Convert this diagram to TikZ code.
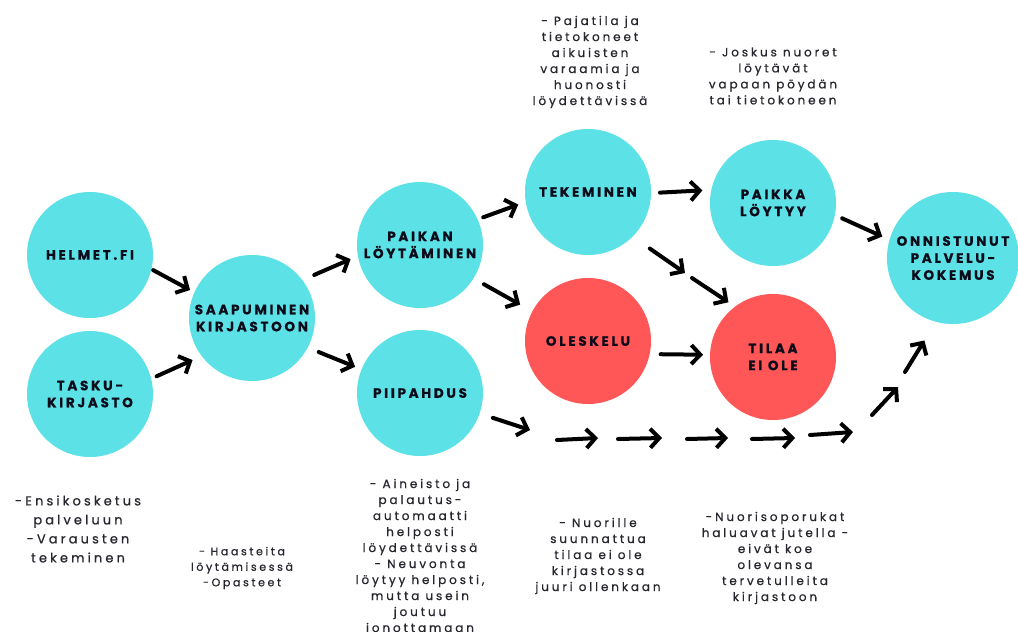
\documentclass[tikz,border=0pt]{standalone}
\usepackage{fontspec}
\usetikzlibrary{arrows.meta}
\newfontfamily\lblfont{Poppins}[LetterSpace=20, BoldFeatures={FakeBold=0.6}]
\newfontfamily\notefont{Poppins}[LetterSpace=24, FakeBold=0.7]
\definecolor{cyanc}{HTML}{5CE1E6}
\definecolor{redc}{HTML}{FF5757}
\definecolor{lbltext}{HTML}{0B0B1A}
\definecolor{notetext}{HTML}{26262E}
\tikzset{
  circ/.style={circle, minimum size=126pt, inner sep=0pt, outer sep=0pt, align=center,
    text=lbltext, font={\lblfont\bfseries\fontsize{13.5}{17}\selectfont}},
  bluec/.style={circ, fill=cyanc},
  redcirc/.style={circ, fill=redc},
  note/.style={align=center, text=notetext, inner sep=0pt, font={\notefont\fontsize{12}{16}\selectfont}},
  arr/.style={line width=4pt, line cap=round, line join=round, draw=black,
    -{Straight Barb[length=9pt,width=19pt]}}
}
\begin{document}
\begin{tikzpicture}[x=1pt,y=-1pt]
\fill[white] (0,0) rectangle (1018,632);
\useasboundingbox (0,0) rectangle (1018,632);
% circles
\node[bluec] (helmet) at (90,255) {HELMET.FI};
\node[bluec] (tasku) at (90,394) {TASKU-\\KIRJASTO};
\node[bluec] (saap) at (252,318) {SAAPUMINEN\\KIRJASTOON};
\node[bluec] (paikan) at (420,245) {PAIKAN\\LÖYTÄMINEN};
\node[bluec] (piip) at (420,393) {PIIPAHDUS};
\node[bluec] (tek) at (588,192) {TEKEMINEN};
\node[redcirc] (oles) at (588,341) {OLESKELU};
\node[bluec] (paikka) at (773,203) {PAIKKA\\LÖYTYY};
\node[redcirc] (tilaa) at (773,357) {TILAA\\EI OLE};
\node[bluec, minimum size=132pt] (onn) at (953,258) {ONNISTUNUT\\PALVELU-\\KOKEMUS};
% notes
\node[note] (n1) at (590,62) {- Pajatila ja\\tietokoneet\\aikuisten\\varaamia ja\\huonosti\\löydettävissä};
\node[note] (n2) at (773,76) {- Joskus nuoret\\löytävät\\vapaan pöydän\\tai tietokoneen};
\node[note, font={\notefont\fontsize{13}{19}\selectfont}] (n3) at (78,529) {-Ensikosketus\\palveluun\\-Varausten\\tekeminen};
\node[note, font={\notefont\fontsize{11}{15.5}\selectfont}] (n4) at (242,568) {- Haasteita\\löytämisessä\\-Opasteet};
\node[note] (n5) at (420,557) {- Aineisto ja\\palautus-\\automaatti\\helposti\\löydettävissä\\- Neuvonta\\löytyy helposti,\\mutta usein\\joutuu\\jonottamaan};
\node[note] (n6) at (598,556) {- Nuorille\\suunnattua\\tilaa ei ole\\kirjastossa\\juuri ollenkaan};
\node[note] (n7) at (775,558) {-Nuorisoporukat\\haluavat jutella -\\eivät koe\\olevansa\\tervetulleita\\kirjastoon};
% free coordinates
\coordinate (m1) at (685,273);
\coordinate (m2) at (692,278);
\coordinate (b0) at (530,430);
\coordinate (b1s) at (557,440); \coordinate (b1e) at (598,438);
\coordinate (b2s) at (618,439); \coordinate (b2e) at (662,438);
\coordinate (b3s) at (687,439); \coordinate (b3e) at (728,438);
\coordinate (b4s) at (752,439); \coordinate (b4e) at (795,438);
\coordinate (b5s) at (810,435); \coordinate (b5e) at (853,432);
\coordinate (b6s) at (872,415); \coordinate (b6e) at (898,387);
\coordinate (b7s) at (905,372);
% arrows
\draw[arr, shorten <=2pt, shorten >=5pt] (helmet.-13) -- (saap.156);
\draw[arr, shorten <=6pt, shorten >=10pt] (tasku.14) -- (saap.217);
\draw[arr, shorten <=13pt, shorten >=8pt] (saap.37) -- (paikan.190);
\draw[arr, shorten <=12pt, shorten >=7pt] (saap.-28) -- (piip.158);
\draw[arr, shorten <=6pt, shorten >=8pt] (paikan.24) -- (tek.189);
\draw[arr, shorten <=12pt, shorten >=14pt] (paikan.-32) -- (oles.152);
\draw[arr, shorten <=9pt, shorten >=9pt] (tek.-1) -- (paikka.168);
\draw[arr, shorten <=21pt] (tek.-45) -- (m1);
\draw[arr, shorten >=8pt] (m2) -- (tilaa.127);
\draw[arr, shorten <=11pt, shorten >=7pt] (oles.-12) -- (tilaa.178);
\draw[arr, shorten <=8pt, shorten >=8pt] (paikka.-11) -- (onn.164);
\draw[arr, shorten <=14pt] (piip.-19) -- (b0);
\draw[arr] (b1s) -- (b1e);
\draw[arr] (b2s) -- (b2e);
\draw[arr] (b3s) -- (b3e);
\draw[arr] (b4s) -- (b4e);
\draw[arr] (b5s) -- (b5e);
\draw[arr] (b6s) -- (b6e);
\draw[arr, shorten >=22pt] (b7s) -- (onn.255);
\end{tikzpicture}
\end{document}
